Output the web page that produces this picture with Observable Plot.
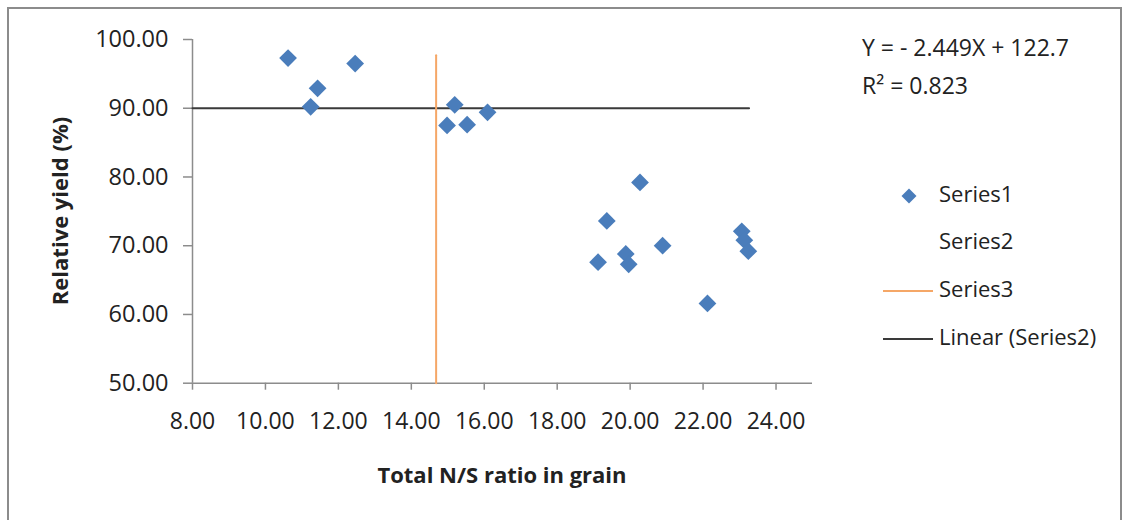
<!DOCTYPE html>
<html>
<head>
<meta charset="utf-8">
<script src="https://cdn.jsdelivr.net/npm/d3@7"></script>
<script src="https://cdn.jsdelivr.net/npm/@observablehq/plot@0.6"></script>
<style>
  html, body { margin: 0; padding: 0; background: #fff; }
  #chart { position: relative; width: 1124px; height: 520px; overflow: hidden; }
</style>
</head>
<body>
<div id="chart"></div>
<script>
// Series1: scatter points
const nsRatio  = [10.62, 11.24, 11.43, 12.46, 14.98, 15.19, 15.53, 16.09, 19.12, 19.36, 19.88, 19.96, 20.27, 20.89, 22.12, 23.06, 23.13, 23.24];
const relYield = [97.3, 90.2, 92.9, 96.5, 87.5, 90.5, 87.6, 89.4, 67.6, 73.6, 68.8, 67.3, 79.2, 70.0, 61.6, 72.1, 70.8, 69.2];
// Series3: vertical critical line
const series3X = [14.68, 14.68];
const series3Y = [50, 97.7];
// Linear (Series2): horizontal 90% line
const linearX = [8, 23.26];
const linearY = [90, 90];
// Axis ticks
const xTicks = [8, 10, 12, 14, 16, 18, 20, 22, 24];
const yTicks = [50, 60, 70, 80, 90, 100];
const xDomain = [8, 25];
const yDomain = [50, 100];
// Texts
const xTitle = "Total N/S ratio in grain";
const yTitle = "Relative yield (%)";
const eqLine1 = "Y = - 2.449X + 122.7";
const eqLine2 = "R² = 0.823";
const legendNames = ["Series1", "Series2", "Series3", "Linear (Series2)"];

const pts = nsRatio.map((x, i) => ({x, y: relYield[i]}));
const s3 = series3X.map((x, i) => ({x, y: series3Y[i]}));
const lin = linearX.map((x, i) => ({x, y: linearY[i]}));

const blue = "#4a7dbb", orange = "#f5a767", dark = "#3a3a3a", axisGray = "#8c8c8c", textCol = "#222";

const plot = Plot.plot({
  width: 1124,
  height: 520,
  marginLeft: 192,
  marginRight: 312,
  marginTop: 39,
  marginBottom: 137.3,
  style: {fontFamily: "'Open Sans', sans-serif", background: "transparent", overflow: "visible"},
  x: {domain: xDomain},
  y: {domain: yDomain},
  marks: [
    Plot.ruleX([xDomain[0]], {y1: yDomain[0], y2: yDomain[1], stroke: axisGray, strokeWidth: 1.5}),
    Plot.ruleY([yDomain[0]], {x1: xDomain[0], x2: xDomain[1], stroke: axisGray, strokeWidth: 1.5}),
    Plot.axisY({ticks: yTicks, tickSize: 9, tickPadding: 15, tickFormat: d => d.toFixed(2), stroke: axisGray, strokeWidth: 1.5, fill: textCol, fontSize: 23.5, label: null}),
    Plot.axisX({ticks: xTicks, tickSize: 7, tickPadding: 22, tickFormat: d => d.toFixed(2), stroke: axisGray, strokeWidth: 1.5, fill: textCol, fontSize: 23, label: null}),
    Plot.line(lin, {x: "x", y: "y", stroke: dark, strokeWidth: 2}),
    Plot.line(s3, {x: "x", y: "y", stroke: orange, strokeWidth: 2}),
    Plot.dot(pts, {x: "x", y: "y", symbol: "diamond2", r: 8, fill: blue, stroke: "none"})
  ]
});

const svg = d3.select(plot);
// outer chart border
svg.insert("rect", ":first-child")
  .attr("x", 8).attr("y", 8).attr("width", 1113).attr("height", 600)
  .attr("fill", "#fff").attr("stroke", axisGray).attr("stroke-width", 2);

// axis titles
svg.append("text")
  .attr("transform", "translate(62,211) rotate(-90)")
  .attr("text-anchor", "middle").attr("dominant-baseline", "middle")
  .attr("font-size", 22).attr("font-weight", "bold").attr("fill", textCol)
  .text(yTitle);
svg.append("text")
  .attr("x", 502).attr("y", 477)
  .attr("text-anchor", "middle").attr("dominant-baseline", "middle")
  .attr("font-size", 22).attr("font-weight", "bold").attr("fill", textCol)
  .text(xTitle);

// trendline equation
svg.append("text").attr("x", 862).attr("y", 50).attr("text-anchor", "start").attr("dominant-baseline", "middle")
  .attr("font-size", 23).attr("fill", textCol).text(eqLine1);
svg.append("text").attr("x", 862).attr("y", 88).attr("text-anchor", "start").attr("dominant-baseline", "middle")
  .attr("font-size", 23).attr("fill", textCol).text(eqLine2);

// legend
const legY = [196, 243, 291, 339];
const lg = svg.append("g");
lg.append("path").attr("d", d3.symbol(d3.symbolDiamond2, 2 * 8.5 * 8.5)())
  .attr("transform", `translate(909,${legY[0]})`).attr("fill", blue);
lg.append("line").attr("x1", 883).attr("x2", 933).attr("y1", legY[2]).attr("y2", legY[2])
  .attr("stroke", orange).attr("stroke-width", 2);
lg.append("line").attr("x1", 883).attr("x2", 933).attr("y1", legY[3]).attr("y2", legY[3])
  .attr("stroke", dark).attr("stroke-width", 2);
legendNames.forEach((n, i) => {
  lg.append("text").attr("x", 939).attr("y", legY[i]).attr("text-anchor", "start").attr("dominant-baseline", "middle")
    .attr("font-size", 22).attr("fill", textCol).text(n);
});

document.getElementById("chart").appendChild(plot);
</script>
</body>
</html>
